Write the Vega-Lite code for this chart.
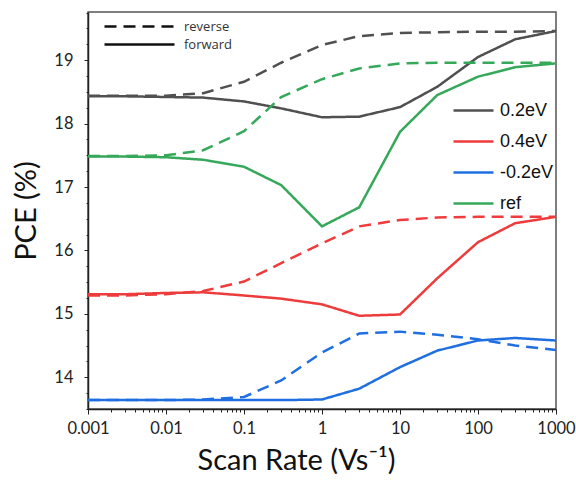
{
  "$schema": "https://vega.github.io/schema/vega-lite/v6.json",
  "autosize": "none",
  "width": 468,
  "height": 397,
  "padding": {"left": 88, "top": 12, "right": 20, "bottom": 76},
  "background": "white",
  "config": {
    "view": {"stroke": "#555", "strokeWidth": 1.5},
    "font": "Lato"
  },
  "datasets": {
    "pce": [
      {"x": 0.001, "v": 18.43, "s": "0.2eV", "d": "forward"},
      {"x": 0.003, "v": 18.43, "s": "0.2eV", "d": "forward"},
      {"x": 0.01, "v": 18.42, "s": "0.2eV", "d": "forward"},
      {"x": 0.03, "v": 18.41, "s": "0.2eV", "d": "forward"},
      {"x": 0.1, "v": 18.35, "s": "0.2eV", "d": "forward"},
      {"x": 0.3, "v": 18.24, "s": "0.2eV", "d": "forward"},
      {"x": 1, "v": 18.10, "s": "0.2eV", "d": "forward"},
      {"x": 3, "v": 18.11, "s": "0.2eV", "d": "forward"},
      {"x": 10, "v": 18.26, "s": "0.2eV", "d": "forward"},
      {"x": 30, "v": 18.58, "s": "0.2eV", "d": "forward"},
      {"x": 100, "v": 19.05, "s": "0.2eV", "d": "forward"},
      {"x": 300, "v": 19.33, "s": "0.2eV", "d": "forward"},
      {"x": 1000, "v": 19.46, "s": "0.2eV", "d": "forward"},
      {"x": 0.001, "v": 18.44, "s": "0.2eV", "d": "reverse"},
      {"x": 0.003, "v": 18.44, "s": "0.2eV", "d": "reverse"},
      {"x": 0.01, "v": 18.44, "s": "0.2eV", "d": "reverse"},
      {"x": 0.03, "v": 18.48, "s": "0.2eV", "d": "reverse"},
      {"x": 0.1, "v": 18.66, "s": "0.2eV", "d": "reverse"},
      {"x": 0.3, "v": 18.96, "s": "0.2eV", "d": "reverse"},
      {"x": 1, "v": 19.24, "s": "0.2eV", "d": "reverse"},
      {"x": 3, "v": 19.38, "s": "0.2eV", "d": "reverse"},
      {"x": 10, "v": 19.43, "s": "0.2eV", "d": "reverse"},
      {"x": 30, "v": 19.44, "s": "0.2eV", "d": "reverse"},
      {"x": 100, "v": 19.45, "s": "0.2eV", "d": "reverse"},
      {"x": 300, "v": 19.45, "s": "0.2eV", "d": "reverse"},
      {"x": 1000, "v": 19.46, "s": "0.2eV", "d": "reverse"},
      {"x": 0.001, "v": 15.31, "s": "0.4eV", "d": "forward"},
      {"x": 0.003, "v": 15.31, "s": "0.4eV", "d": "forward"},
      {"x": 0.01, "v": 15.33, "s": "0.4eV", "d": "forward"},
      {"x": 0.03, "v": 15.34, "s": "0.4eV", "d": "forward"},
      {"x": 0.1, "v": 15.29, "s": "0.4eV", "d": "forward"},
      {"x": 0.3, "v": 15.24, "s": "0.4eV", "d": "forward"},
      {"x": 1, "v": 15.15, "s": "0.4eV", "d": "forward"},
      {"x": 3, "v": 14.97, "s": "0.4eV", "d": "forward"},
      {"x": 10, "v": 14.99, "s": "0.4eV", "d": "forward"},
      {"x": 30, "v": 15.56, "s": "0.4eV", "d": "forward"},
      {"x": 100, "v": 16.13, "s": "0.4eV", "d": "forward"},
      {"x": 300, "v": 16.43, "s": "0.4eV", "d": "forward"},
      {"x": 1000, "v": 16.53, "s": "0.4eV", "d": "forward"},
      {"x": 0.001, "v": 15.29, "s": "0.4eV", "d": "reverse"},
      {"x": 0.003, "v": 15.29, "s": "0.4eV", "d": "reverse"},
      {"x": 0.01, "v": 15.31, "s": "0.4eV", "d": "reverse"},
      {"x": 0.03, "v": 15.36, "s": "0.4eV", "d": "reverse"},
      {"x": 0.1, "v": 15.51, "s": "0.4eV", "d": "reverse"},
      {"x": 0.3, "v": 15.80, "s": "0.4eV", "d": "reverse"},
      {"x": 1, "v": 16.11, "s": "0.4eV", "d": "reverse"},
      {"x": 3, "v": 16.38, "s": "0.4eV", "d": "reverse"},
      {"x": 10, "v": 16.48, "s": "0.4eV", "d": "reverse"},
      {"x": 30, "v": 16.52, "s": "0.4eV", "d": "reverse"},
      {"x": 100, "v": 16.53, "s": "0.4eV", "d": "reverse"},
      {"x": 300, "v": 16.53, "s": "0.4eV", "d": "reverse"},
      {"x": 1000, "v": 16.53, "s": "0.4eV", "d": "reverse"},
      {"x": 0.001, "v": 13.64, "s": "-0.2eV", "d": "forward"},
      {"x": 0.003, "v": 13.64, "s": "-0.2eV", "d": "forward"},
      {"x": 0.01, "v": 13.64, "s": "-0.2eV", "d": "forward"},
      {"x": 0.03, "v": 13.64, "s": "-0.2eV", "d": "forward"},
      {"x": 0.1, "v": 13.64, "s": "-0.2eV", "d": "forward"},
      {"x": 0.3, "v": 13.64, "s": "-0.2eV", "d": "forward"},
      {"x": 1, "v": 13.65, "s": "-0.2eV", "d": "forward"},
      {"x": 3, "v": 13.82, "s": "-0.2eV", "d": "forward"},
      {"x": 10, "v": 14.16, "s": "-0.2eV", "d": "forward"},
      {"x": 30, "v": 14.42, "s": "-0.2eV", "d": "forward"},
      {"x": 100, "v": 14.58, "s": "-0.2eV", "d": "forward"},
      {"x": 300, "v": 14.62, "s": "-0.2eV", "d": "forward"},
      {"x": 1000, "v": 14.58, "s": "-0.2eV", "d": "forward"},
      {"x": 0.001, "v": 13.64, "s": "-0.2eV", "d": "reverse"},
      {"x": 0.003, "v": 13.64, "s": "-0.2eV", "d": "reverse"},
      {"x": 0.01, "v": 13.64, "s": "-0.2eV", "d": "reverse"},
      {"x": 0.03, "v": 13.65, "s": "-0.2eV", "d": "reverse"},
      {"x": 0.1, "v": 13.69, "s": "-0.2eV", "d": "reverse"},
      {"x": 0.3, "v": 13.95, "s": "-0.2eV", "d": "reverse"},
      {"x": 1, "v": 14.39, "s": "-0.2eV", "d": "reverse"},
      {"x": 3, "v": 14.69, "s": "-0.2eV", "d": "reverse"},
      {"x": 10, "v": 14.72, "s": "-0.2eV", "d": "reverse"},
      {"x": 30, "v": 14.67, "s": "-0.2eV", "d": "reverse"},
      {"x": 100, "v": 14.60, "s": "-0.2eV", "d": "reverse"},
      {"x": 300, "v": 14.50, "s": "-0.2eV", "d": "reverse"},
      {"x": 1000, "v": 14.43, "s": "-0.2eV", "d": "reverse"},
      {"x": 0.001, "v": 17.48, "s": "ref", "d": "forward"},
      {"x": 0.003, "v": 17.48, "s": "ref", "d": "forward"},
      {"x": 0.01, "v": 17.47, "s": "ref", "d": "forward"},
      {"x": 0.03, "v": 17.43, "s": "ref", "d": "forward"},
      {"x": 0.1, "v": 17.32, "s": "ref", "d": "forward"},
      {"x": 0.3, "v": 17.03, "s": "ref", "d": "forward"},
      {"x": 1, "v": 16.38, "s": "ref", "d": "forward"},
      {"x": 3, "v": 16.68, "s": "ref", "d": "forward"},
      {"x": 10, "v": 17.87, "s": "ref", "d": "forward"},
      {"x": 30, "v": 18.45, "s": "ref", "d": "forward"},
      {"x": 100, "v": 18.74, "s": "ref", "d": "forward"},
      {"x": 300, "v": 18.89, "s": "ref", "d": "forward"},
      {"x": 1000, "v": 18.95, "s": "ref", "d": "forward"},
      {"x": 0.001, "v": 17.49, "s": "ref", "d": "reverse"},
      {"x": 0.003, "v": 17.49, "s": "ref", "d": "reverse"},
      {"x": 0.01, "v": 17.50, "s": "ref", "d": "reverse"},
      {"x": 0.03, "v": 17.58, "s": "ref", "d": "reverse"},
      {"x": 0.1, "v": 17.88, "s": "ref", "d": "reverse"},
      {"x": 0.3, "v": 18.42, "s": "ref", "d": "reverse"},
      {"x": 1, "v": 18.70, "s": "ref", "d": "reverse"},
      {"x": 3, "v": 18.87, "s": "ref", "d": "reverse"},
      {"x": 10, "v": 18.95, "s": "ref", "d": "reverse"},
      {"x": 30, "v": 18.96, "s": "ref", "d": "reverse"},
      {"x": 100, "v": 18.96, "s": "ref", "d": "reverse"},
      {"x": 300, "v": 18.96, "s": "ref", "d": "reverse"},
      {"x": 1000, "v": 18.96, "s": "ref", "d": "reverse"}
    ]
  },
  "data": {"name": "pce"},
  "mark": {"type": "line", "strokeWidth": 2.5, "clip": true},
  "encoding": {
    "x": {
      "field": "x",
      "type": "quantitative",
      "scale": {"type": "log", "domain": [0.001, 1000], "nice": false},
      "axis": {
        "title": "Scan Rate (Vs⁻¹)",
        "titleFont": "Lato",
        "titleFontSize": 29,
        "titleFontWeight": "normal",
        "titleColor": "#111",
        "titlePadding": 10,
        "titleX": 208,
        "values": [0.001,0.002,0.003,0.004,0.005,0.006,0.007,0.008,0.009,0.01,0.02,0.03,0.04,0.05,0.06,0.07,0.08,0.09,0.1,0.2,0.3,0.4,0.5,0.6,0.7,0.8,0.9,1,2,3,4,5,6,7,8,9,10,20,30,40,50,60,70,80,90,100,200,300,400,500,600,700,800,900,1000],
        "labelExpr": "abs(log(datum.value)/LN10 - round(log(datum.value)/LN10)) < 0.000001 ? '' + datum.value : ''",
        "labelFontSize": 16.5,
        "labelColor": "#222",
        "labelPadding": 6,
        "labelFlush": false,
        "labelOverlap": false,
        "grid": false,
        "domainColor": "#222",
        "domainWidth": 1.5,
        "tickColor": "#222",
        "tickWidth": 1,
        "tickSize": {"condition": {"test": "abs(log(datum.value)/LN10 - round(log(datum.value)/LN10)) < 0.000001", "value": 5}, "value": 3}
      }
    },
    "y": {
      "field": "v",
      "type": "quantitative",
      "scale": {"domain": [13.5, 19.76], "nice": false, "zero": false},
      "axis": {
        "title": "PCE (%)",
        "titleFont": "Lato",
        "titleFontSize": 29,
        "titleFontWeight": "normal",
        "titleColor": "#111",
        "titlePadding": 12,
        "values": [13.5,13.75,14,14.25,14.5,14.75,15,15.25,15.5,15.75,16,16.25,16.5,16.75,17,17.25,17.5,17.75,18,18.25,18.5,18.75,19,19.25,19.5,19.75],
        "labelExpr": "datum.value % 1 == 0 ? '' + datum.value : ''",
        "labelFontSize": 16.5,
        "labelColor": "#222",
        "labelPadding": 11,
        "labelOverlap": false,
        "grid": false,
        "domainColor": "#222",
        "domainWidth": 1.5,
        "tickColor": "#222",
        "tickWidth": 1,
        "tickSize": {"condition": {"test": "datum.value % 1 == 0", "value": 4}, "value": 2}
      }
    },
    "color": {
      "field": "s",
      "type": "nominal",
      "scale": {"domain": ["0.2eV", "0.4eV", "-0.2eV", "ref"], "range": ["#505050", "#ee3b3b", "#1f6fe0", "#35a85a"]},
      "legend": {
        "title": null,
        "orient": "none",
        "legendX": 364,
        "legendY": 77,
        "symbolType": "stroke",
        "symbolSize": 1600,
        "symbolStrokeWidth": 2.5,
        "labelFont": "Liberation Sans",
        "labelFontSize": 18,
        "labelColor": "#111",
        "labelOffset": 5,
        "rowPadding": -7
      }
    },
    "strokeDash": {
      "field": "d",
      "type": "nominal",
      "scale": {"domain": ["reverse", "forward"], "range": [[12, 7], [1, 0]]},
      "legend": {
        "title": null,
        "orient": "none",
        "legendX": 15,
        "legendY": 7,
        "symbolType": "stroke",
        "symbolSize": 4900,
        "symbolStrokeWidth": 2.5,
        "symbolStrokeColor": "#111",
        "labelFont": "Open Sans",
        "labelFontSize": 13,
        "labelColor": "#333",
        "labelOffset": 8,
        "clipHeight": 15,
        "rowPadding": 3
      }
    }
  }
}
